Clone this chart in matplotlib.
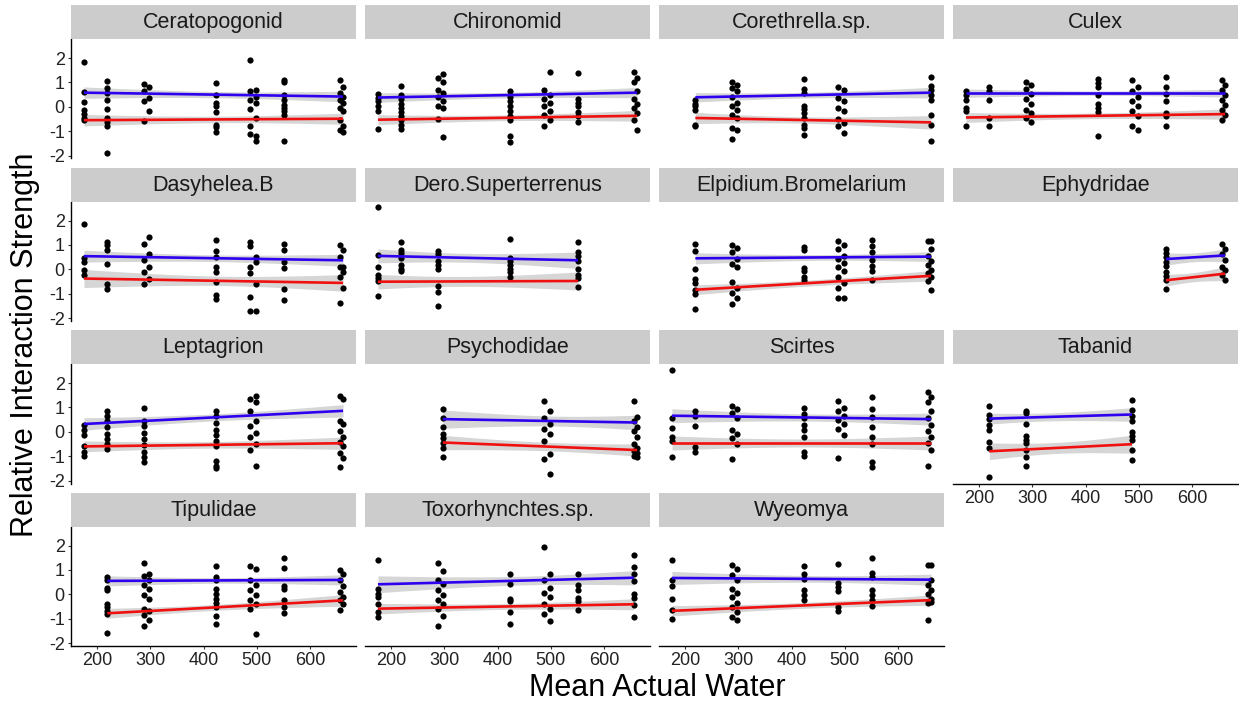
import numpy as np
import matplotlib.pyplot as plt

plt.rcParams['font.family'] = ['Liberation Sans', 'DejaVu Sans']
plt.rcParams['axes.unicode_minus'] = False

# facet order (facet_wrap, 4 columns)
taxa = ['Ceratopogonid', 'Chironomid', 'Corethrella.sp.', 'Culex',
        'Dasyhelea.B', 'Dero.Superterrenus', 'Elpidium.Bromelarium', 'Ephydridae',
        'Leptagrion', 'Psychodidae', 'Scirtes', 'Tabanid',
        'Tipulidae', 'Toxorhynchtes.sp.', 'Wyeomya']

# mean actual water -> relative interaction strengths
ceratopogonid = {175: [1.85, 0.6, 0.2, -0.15, -0.3, -0.45, -0.55],
                 219: [1.06, 0.76, 0.56, 0.29, -0.1, -0.46, -0.64, -0.8, -1.9],
                 287: [0.94, 0.63, 0.25, -0.6],
                 297: [0.8, 0.38, -0.19],
                 423: [0.97, 0.5, 0.15, 0.02, -0.23, -0.73, -0.83, -1.05],
                 487: [1.92, 0.63, 0.29, -0.1, -0.8, -1.1],
                 498: [0.7, 0.42, 0.15, -0.46, -1.2, -1.39],
                 551: [1.1, 1.03, 0.5, 0.29, 0.08, -0.05, -0.19, -0.33, -1.39],
                 656: [1.1, 0.56, 0.29, -0.05, -0.53, -0.94],
                 662: [0.83, 0.42, 0.15, -0.19, -0.8, -1.05]}
chironomid = {175: [0.52, 0.38, 0.22, 0.02, -0.19, -0.91],
              219: [0.86, 0.49, 0.31, 0.12, -0.05, -0.23, -0.39, -0.56, -0.73, -0.91],
              287: [1.17, 0.69, 0.39, 0.04, -0.5],
              297: [1.35, 1.03, 0.56, 0.22, -0.05, -1.24],
              423: [0.63, 0.42, 0.22, 0.02, -0.19, -0.39, -0.53, -1.18, -1.46],
              487: [0.69, 0.31, 0.02, -0.32, -0.78],
              498: [1.44, 0.49, 0.15, -0.19, -0.53],
              551: [1.4, 0.31, 0.15, 0.02, -0.23, -0.39, -0.64],
              656: [1.44, 1.03, 0.31, -0.05, -0.53],
              662: [1.17, 0.63, 0.12, -0.26, -0.94]}
corethrella = {219: [0.29, 0.12, 0.02, -0.12, -0.73, -0.8],
               287: [1.03, 0.76, 0.42, 0.02, -0.32, -0.87, -1.32],
               297: [0.9, 0.63, 0.15, -0.12, -0.46, -0.97],
               423: [1.13, 0.72, 0.56, 0.04, -0.1, -0.26, -0.46, -0.73, -0.87, -1.14],
               487: [0.8, 0.35, -0.05, -0.5, -0.8],
               498: [0.67, 0.22, -0.19, -0.67, -1.07],
               662: [1.24, 0.86, 0.69, 0.49, 0.29, -0.33, -0.73, -1.41]}
culex = {175: [0.63, 0.5, 0.29, -0.05, -0.19, -0.78],
         219: [0.8, 0.63, 0.29, -0.46, -0.78],
         287: [1.03, 0.72, 0.31, -0.12, -0.46],
         297: [0.9, 0.53, 0.12, -0.26, -0.64],
         423: [1.13, 0.97, 0.8, 0.49, 0.12, -0.05, -0.23, -1.21],
         487: [1.08, 0.63, 0.22, -0.19, -0.8],
         498: [0.8, 0.42, 0.02, -0.39, -0.94],
         551: [1.21, 0.8, 0.53, 0.22, -0.26, -0.39, -0.8],
         656: [1.1, 0.69, 0.29, -0.12, -0.53],
         662: [0.9, 0.49, 0.08, -0.33]}
dasyhelea = {175: [1.84, 0.48, 0.3, -0.04, -0.24],
             219: [1.14, 0.98, 0.78, 0.23, -0.61, -0.79],
             287: [1.05, 0.37, -0.11, -0.61],
             297: [1.32, 0.61, 0.1, -0.38],
             423: [1.22, 0.75, 0.5, 0.1, -0.11, -0.52, -1.06, -1.24],
             487: [1.12, 0.94, 0.1, -0.15, -1.13, -1.71],
             498: [0.5, 0.3, -0.61, -1.71],
             551: [1.02, 0.8, 0.3, 0.07, -0.79, -1.27],
             656: [0.98, 0.5, 0.1, -0.31, -1.37],
             662: [0.78, 0.1, -0.11, -0.75]}
dero = {175: [2.56, 0.59, 0.08, -0.25, -0.37, -0.48, -1.1],
        219: [1.11, 0.79, 0.65, 0.48, 0.17, 0.03, -0.08],
        287: [0.76, 0.62, 0.34, 0.17, 0.03, -0.68, -0.93, -1.52],
        423: [1.25, 0.48, 0.34, 0.17, 0.03, -0.11, -0.3],
        551: [1.11, 0.73, 0.55, 0.34, 0.03, -0.23, -0.37, -0.72]}
elpidium = {219: [1.04, 0.76, 0.03, -0.39, -0.58, -0.86, -1.0, -1.63],
            287: [1.01, 0.73, 0.2, -0.54, -0.96, -1.42],
            297: [0.87, 0.41, 0.08, -0.76, -1.18],
            423: [0.93, 0.79, 0.06, -0.08, -0.3, -0.44],
            487: [1.15, 0.83, 0.41, 0.08, -0.3, -0.76, -1.18],
            498: [1.01, 0.55, 0.27, -0.08, -0.58, -1.18],
            551: [1.21, 0.97, 0.69, 0.37, 0.13, -0.08, -0.44],
            656: [1.18, 0.55, 0.17, -0.15, -0.48],
            662: [1.18, 0.83, 0.34, -0.01, -0.3, -0.86]}
ephydridae = {551: [0.84, 0.67, 0.5, 0.3, 0.12, -0.11, -0.29, -0.45, -0.79],
              656: [1.02, 0.64, 0.1, -0.24],
              662: [0.84, 0.37, -0.04, -0.42]}
leptagrion = {175: [0.27, 0.07, -0.12, -0.58, -0.81, -0.99],
              219: [0.84, 0.66, 0.45, 0.18, -0.1, -0.3, -0.51, -0.71],
              287: [0.97, 0.45, 0.25, -0.03, -0.3, -0.53, -0.85, -1.05, -1.26],
              423: [0.86, 0.66, 0.38, 0.07, -0.12, -0.37, -0.58, -1.19, -1.4, -1.49],
              487: [1.34, 0.86, 0.25, -0.23, -0.75],
              498: [1.48, 1.21, 0.45, -0.03, -0.51, -1.4],
              656: [1.48, 0.45, 0.04, -0.4, -0.89, -1.44],
              662: [1.34, 0.32, -0.21, -0.58, -1.08]}
psychodidae = {297: [0.93, 0.56, 0.18, -0.1, -0.26, -0.44, -0.67, -1.03],
               487: [1.25, 0.56, 0.11, -0.37, -1.12],
               498: [0.84, 0.32, -0.1, -0.92, -1.74],
               656: [1.25, 0.45, 0.05, -0.51, -0.78, -0.99],
               662: [0.6, 0.2, -0.23, -0.65, -0.88, -1.05]}
scirtes = {175: [2.53, 0.56, 0.15, -0.21, -0.37, -1.03],
           219: [0.84, 0.66, 0.25, -0.64, -0.85],
           287: [1.07, 0.79, 0.07, -0.26, -1.12],
           297: [0.93, 0.56, -0.1, -0.51],
           423: [0.97, 0.75, 0.56, 0.29, 0.07, -0.23, -0.85, -0.99],
           487: [1.25, 0.84, 0.48, 0.11, -1.08],
           498: [0.97, 0.66, 0.32, -0.12],
           551: [1.41, 0.93, 0.59, 0.18, -0.21, -0.51, -1.26, -1.44],
           656: [1.62, 1.21, 0.56, 0.04, -0.44, -1.4],
           662: [1.41, 0.86, 0.29, -0.21, -0.75]}
tabanid = {219: [1.04, 0.67, 0.54, 0.27, 0.09, -0.41, -0.65, -1.87],
           287: [0.85, 0.77, 0.31, -0.18, -0.32, -0.48, -0.73, -1.03, -1.41],
           487: [1.29, 0.9, 0.63, 0.44, -0.01, -0.18, -0.35, -0.76, -1.14]}
tipulidae = {219: [0.7, 0.6, 0.27, 0.16, -0.38, -0.52, -0.68, -0.79, -1.58],
             287: [1.28, 0.74, 0.38, -0.04, -0.59, -0.86, -1.31],
             297: [0.85, 0.6, 0.2, -0.18, -0.68, -1.06],
             423: [1.15, 0.7, 0.57, 0.23, 0.03, -0.18, -0.35, -0.52, -0.9, -1.2],
             487: [1.15, 0.6, 0.16, -0.25, -0.59],
             498: [1.05, 0.37, -0.04, -0.41, -1.64],
             551: [1.5, 1.09, 0.33, 0.23, -0.22, -0.52, -0.76],
             656: [0.98, 0.6, 0.1, -0.25, -0.63],
             662: [0.85, 0.33, -0.11, -0.41]}
toxorhynchtes = {175: [1.39, 0.23, 0.03, -0.11, -0.38, -0.72, -0.93],
                 287: [1.28, 0.6, 0.16, -0.22, -0.59, -1.31],
                 297: [0.95, 0.41, -0.04, -0.38, -0.9],
                 423: [0.82, 0.41, -0.18, -0.27, -0.72, -1.2],
                 487: [1.94, 0.6, 0.05, -0.41, -0.82],
                 498: [0.85, 0.27, -0.11, -0.59, -1.09],
                 551: [0.85, 0.37, 0.16, -0.14, -0.27, -0.63],
                 656: [1.6, 1.12, 0.85, 0.55, 0.02, -0.14, -0.45, -0.95]}
wyeomya = {175: [1.39, 0.57, 0.33, -0.18, -0.65, -1.0],
           287: [1.19, 0.78, 0.23, -0.11, -0.52, -0.93],
           297: [1.05, 0.57, 0.05, -0.35, -0.72, -1.06],
           423: [1.15, 0.82, 0.64, 0.16, -0.04, -0.22],
           487: [1.26, 0.46, 0.3, 0.14, -0.52, -0.68],
           551: [1.5, 0.87, 0.71, 0.16, -0.04, -0.25, -0.49],
           656: [1.19, 0.37, 0.03, -0.35, -1.04],
           662: [1.19, 0.57, 0.19, -0.18, -0.3]}

# fitted lm lines: (value at lowest water, value at highest water)
fit_pos = [(0.58, 0.42), (0.38, 0.58), (0.39, 0.58), (0.56, 0.56),
           (0.54, 0.37), (0.55, 0.37), (0.45, 0.52), (0.42, 0.57),
           (0.32, 0.86), (0.52, 0.38), (0.66, 0.52), (0.54, 0.71),
           (0.55, 0.59), (0.41, 0.68), (0.67, 0.6)]
fit_neg = [(-0.55, -0.49), (-0.53, -0.37), (-0.46, -0.64), (-0.44, -0.3),
           (-0.38, -0.56), (-0.51, -0.48), (-0.84, -0.27), (-0.45, -0.18),
           (-0.6, -0.47), (-0.44, -0.75), (-0.46, -0.46), (-0.8, -0.51),
           (-0.78, -0.25), (-0.59, -0.41), (-0.68, -0.24)]

panel_data = dict(zip(taxa, [ceratopogonid, chironomid, corethrella, culex,
                             dasyhelea, dero, elpidium, ephydridae,
                             leptagrion, psychodidae, scirtes, tabanid,
                             tipulidae, toxorhynchtes, wyeomya]))

x_ticks = [200, 300, 400, 500, 600]
y_ticks = [-2, -1, 0, 1, 2]


def to_xy(d):
    xs, ys = [], []
    for k, v in d.items():
        xs += [k] * len(v)
        ys += v
    return np.array(xs, float), np.array(ys, float)


def t975(df):
    z = 1.959964
    return z + (z**3 + z) / (4 * df) + (5 * z**5 + 16 * z**3 + 3 * z) / (96 * df**2)


def band(x, y, ends, xs):
    # line through the read end values, 95% band from the residual spread
    x0, x1 = x.min(), x.max()
    b = (ends[1] - ends[0]) / (x1 - x0)
    line = lambda v: ends[0] + b * (v - x0)
    n = len(x)
    xm = x.mean()
    sxx = ((x - xm) ** 2).sum()
    s = np.sqrt(((y - line(x)) ** 2).sum() / (n - 2))
    se = s * np.sqrt(1 / n + (xs - xm) ** 2 / sxx)
    fit = line(xs)
    t = t975(n - 2)
    return fit, fit - 0.75 * t * se, fit + 0.75 * t * se


all_x = np.concatenate([to_xy(d)[0] for d in panel_data.values()])
all_y = np.concatenate([to_xy(d)[1] for d in panel_data.values()])
xpad = 0.05 * (all_x.max() - all_x.min())
ypad = 0.05 * (all_y.max() - all_y.min())
xlim = (all_x.min() - xpad, all_x.max() + xpad)
ylim = (all_y.min() - ypad, all_y.max() + ypad)

W, H = 1239, 703
fig = plt.figure(figsize=(W / 100, H / 100), dpi=100)

col_left = [71, 365, 659, 953]
panel_w = 285
row_top = [39, 201.5, 364, 526.5]
panel_h = 119.5
strip_h = 34
ncol = 4
n = len(taxa)

for i, name in enumerate(taxa):
    r, c = divmod(i, ncol)
    bottom_in_col = (i + ncol >= n)
    L, T = col_left[c], row_top[r]
    ax = fig.add_axes([L / W, 1 - (T + panel_h) / H, panel_w / W, panel_h / H])
    sax = fig.add_axes([L / W, 1 - T / H, panel_w / W, strip_h / H])
    sax.set_facecolor('#cccccc')
    sax.set_xticks([])
    sax.set_yticks([])
    for sp in sax.spines.values():
        sp.set_visible(False)
    sax.text(0.5, 0.48, name, ha='center', va='center', fontsize=15.5,
             color='#1a1a1a', transform=sax.transAxes)

    x, y = to_xy(panel_data[name])
    ax.scatter(x, y, s=20, color='black', linewidths=0, zorder=3)
    for mask, ends, col in [(y > 0, fit_pos[i], '#2f00f0'), (y <= 0, fit_neg[i], '#f01010')]:
        gx, gy = x[mask], y[mask]
        xs = np.linspace(gx.min(), gx.max(), 80)
        fit, lo, hi = band(gx, gy, ends, xs)
        ax.fill_between(xs, lo, hi, color='#999999', alpha=0.4, linewidth=0, zorder=2)
        ax.plot(xs, fit, color=col, linewidth=1.9, zorder=4, solid_capstyle='butt')

    ax.set_xlim(*xlim)
    ax.set_ylim(*ylim)
    ax.set_xticks(x_ticks)
    ax.set_yticks(y_ticks)
    for sp in ax.spines.values():
        sp.set_visible(False)
    ax.spines['left'].set_visible(c == 0)
    ax.spines['bottom'].set_visible(bottom_in_col)
    ax.spines['left'].set_linewidth(1.0)
    ax.spines['bottom'].set_linewidth(1.0)
    ax.tick_params(axis='y', left=(c == 0), labelleft=(c == 0), length=2.5,
                   width=0.8, color='#333333', labelsize=13, labelcolor='#222222', pad=2)
    ax.tick_params(axis='x', bottom=bottom_in_col, labelbottom=bottom_in_col, length=2.5,
                   width=0.8, color='#333333', labelsize=13, labelcolor='#222222', pad=2)
    ax.patch.set_alpha(0)

fig.text(657 / W, 1 - 688 / H, 'Mean Actual Water', ha='center', va='center', fontsize=22)
fig.text(25 / W, 1 - 345 / H, 'Relative Interaction Strength', ha='center', va='center',
         fontsize=22, rotation=90)

fig.savefig('out.png', dpi=100)
